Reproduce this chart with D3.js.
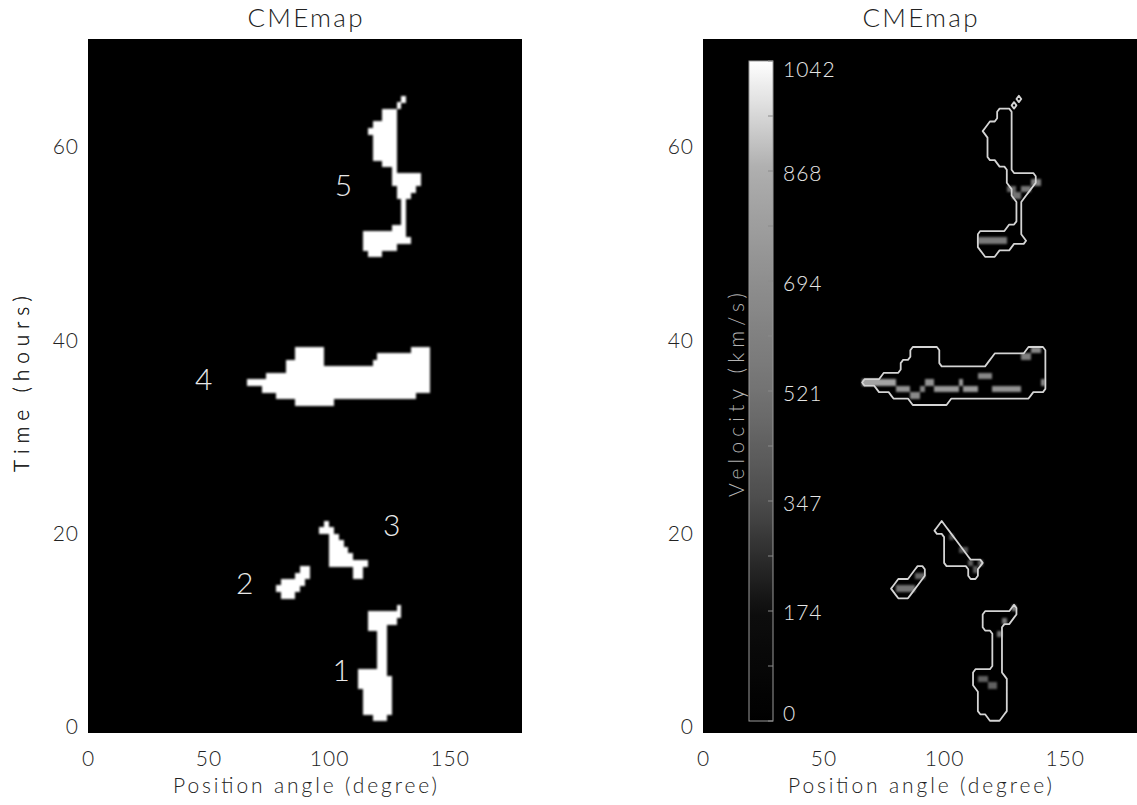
<!DOCTYPE html>
<html lang="en">
<head>
<meta charset="UTF-8">
<title>CMEmap</title>
<script src="https://d3js.org/d3.v7.min.js"></script>
<style>
  body { margin: 0; background: #fff; }
  text { font-family: Lato, "DejaVu Sans", sans-serif; font-weight: 300; }
</style>
</head>
<body>
<svg></svg>
<script>
const width = 1137, height = 805;

// axes
const angleTicks = [0, 50, 100, 150];
const hourTicks = [0, 20, 40, 60];
const velocityTicks = [0, 174, 347, 521, 694, 868, 1042];
const velocityGreys = ["#000000", "#0e0e0e", "#4c4c4c", "#737373", "#8e8e8e", "#adadad", "#ffffff"];

// map grid: 2 degree columns, 40 minute rows
const colStep = 2, rowStep = 2 / 3;
const nCols = 90, nRows = 108;

// each blob: [row, angle from, angle to]
const blob1 = [
  [1, 118, 124], [2, 114, 126], [3, 114, 126], [4, 114, 126], [5, 114, 126],
  [6, 112, 126], [7, 112, 126], [8, 112, 124],
  [9, 120, 124], [10, 120, 124], [11, 120, 124], [12, 120, 124], [13, 120, 124], [14, 120, 124],
  [15, 116, 124], [16, 116, 128], [17, 116, 130], [18, 128, 130]
];
const blob2 = [
  [20, 80, 86], [21, 78, 88], [22, 80, 90], [23, 86, 92], [24, 88, 92]
];
const blob3 = [
  [23, 110, 114], [24, 110, 114], [25, 100, 116], [26, 100, 110], [27, 100, 108],
  [28, 100, 106], [29, 100, 104], [30, 96, 102], [31, 98, 100]
];
const blob4 = [
  [50, 86, 102], [51, 78, 136], [52, 72, 142], [53, 66, 142], [54, 74, 142],
  [55, 82, 142], [56, 82, 98], [56, 118, 142], [57, 86, 98], [57, 120, 142],
  [58, 86, 98], [58, 134, 142]
];
const blob5 = [
  [73, 116, 122], [74, 114, 128], [75, 114, 134], [76, 114, 132], [77, 126, 132],
  [78, 130, 132], [79, 130, 132], [80, 130, 132], [81, 130, 132],
  [82, 128, 134], [83, 128, 136], [84, 126, 138], [85, 126, 138],
  [86, 126, 128], [87, 122, 128], [88, 118, 128], [89, 118, 128], [90, 118, 128], [91, 118, 128],
  [92, 116, 128], [93, 118, 128], [94, 122, 128], [95, 122, 128], [96, 128, 130], [97, 130, 132]
];
const blobs = [blob1, blob2, blob3, blob4, blob5];

const blobNames = ["1", "2", "3", "4", "5"];
const nameAngles = [105, 65, 126, 48, 106];
const nameHours = [5.9, 14.9, 20.9, 36.0, 56.1];

// velocity cells: [row, angle from, angle to, km/s]
const velocityCells = [
  [6, 118, 122, 440], [7, 114, 118, 440], [14, 122, 124, 520], [16, 124, 126, 560], [18, 128, 130, 700],
  [21, 80, 88, 520], [23, 88, 92, 450],
  [25, 110, 112, 420], [25, 114, 116, 450], [24, 112, 114, 400], [27, 106, 110, 380], [29, 102, 104, 330],
  [53, 66, 80, 820], [52, 80, 86, 720], [51, 86, 90, 660], [52, 90, 92, 650], [53, 92, 96, 720],
  [52, 96, 106, 760], [53, 106, 108, 760], [52, 108, 114, 760], [54, 114, 120, 650],
  [52, 120, 132, 720], [57, 132, 136, 600], [58, 136, 140, 650], [53, 140, 142, 660],
  [75, 114, 126, 560], [83, 126, 130, 480], [82, 128, 132, 520], [83, 132, 136, 540], [84, 136, 140, 600]
];

const plotTop = 39, plotW = 434, plotH = 694;
const panelLeft = [88, 703];
const ink = "#222";

const svg = d3.select("svg").attr("width", width).attr("height", height);

const defs = svg.append("defs");
defs.append("filter").attr("id", "soft")
  .attr("x", "-5%").attr("y", "-5%").attr("width", "110%").attr("height", "110%")
  .append("feGaussianBlur").attr("stdDeviation", 1.3);

const color = d3.scaleLinear().domain(velocityTicks).range(velocityGreys);

const grad = defs.append("linearGradient").attr("id", "bar")
  .attr("x1", 0).attr("y1", 1).attr("x2", 0).attr("y2", 0);
grad.selectAll("stop")
  .data(d3.range(0, 1.001, 0.02))
  .join("stop")
  .attr("offset", d => d)
  .attr("stop-color", d => color(d * 1042));

const grid = new Array(nCols * nRows).fill(0);
blobs.flat().forEach(([r, a0, a1]) => {
  for (let a = a0; a < a1; a += colStep) grid[r * nCols + Math.round(a / colStep)] = 1;
});
const outline = d3.contours().size([nCols, nRows]).thresholds([0.5])(grid)[0];

panelLeft.forEach((left, p) => {
  const x = d3.scaleLinear().domain([0, 180]).range([0, plotW]);
  const y = d3.scaleLinear().domain([-0.6, 71.2]).range([plotH, 0]);

  const g = svg.append("g").attr("transform", `translate(${left},${plotTop})`);

  g.append("rect").attr("width", plotW).attr("height", plotH).attr("fill", "#000");

  svg.append("text")
    .attr("x", left + plotW / 2).attr("y", 27)
    .attr("text-anchor", "middle").attr("font-size", 26)
    .attr("fill", ink)
    .attr("textLength", 115).attr("lengthAdjust", "spacing")
    .text("CMEmap");

  const xa = g.append("g").attr("transform", `translate(0,${plotH})`)
    .call(d3.axisBottom(x).tickValues(angleTicks).tickSize(0).tickPadding(18));
  const ya = g.append("g")
    .call(d3.axisLeft(y).tickValues(hourTicks).tickSize(0).tickPadding(9));
  [xa, ya].forEach(a => {
    a.select(".domain").remove();
    a.attr("font-family", null).attr("font-size", 21);
    a.selectAll("text").attr("fill", ink).attr("letter-spacing", 1);
  });

  g.append("text")
    .attr("x", plotW / 2).attr("y", plotH + 60)
    .attr("text-anchor", "middle").attr("font-size", 21)
    .attr("fill", ink)
    .attr("textLength", 264).attr("lengthAdjust", "spacing")
    .text("Position angle (degree)");

  g.append("text")
    .attr("transform", `translate(${22 - left},${plotH / 2 - 2}) rotate(-90)`)
    .attr("text-anchor", "middle").attr("dy", "0.35em").attr("font-size", 21)
    .attr("fill", ink)
    .attr("textLength", 176).attr("lengthAdjust", "spacing")
    .text("Time (hours)");

  if (p === 0) {
    g.append("g").attr("filter", "url(#soft)")
      .selectAll("rect")
      .data(blobs.flat())
      .join("rect")
      .attr("shape-rendering", "crispEdges")
      .attr("fill", "#fff")
      .attr("x", d => x(d[1]))
      .attr("width", d => x(d[2]) - x(d[1]))
      .attr("y", d => y((d[0] + 1) * rowStep))
      .attr("height", d => y(d[0] * rowStep) - y((d[0] + 1) * rowStep) + 0.5);

    g.selectAll(".name")
      .data(blobNames)
      .join("text")
      .attr("class", "name")
      .attr("x", (d, i) => x(nameAngles[i]))
      .attr("y", (d, i) => y(nameHours[i]))
      .attr("dy", "0.36em")
      .attr("text-anchor", "middle")
      .attr("font-size", 30)
      .attr("fill", "#e8e8e8")
      .text(d => d);
  } else {
    g.append("g").attr("filter", "url(#soft)")
      .selectAll("rect")
      .data(velocityCells)
      .join("rect")
      .attr("shape-rendering", "crispEdges")
      .attr("fill", d => color(d[3]))
      .attr("x", d => x(d[1]))
      .attr("width", d => x(d[2]) - x(d[1]))
      .attr("y", d => y((d[0] + 1) * rowStep))
      .attr("height", d => y(d[0] * rowStep) - y((d[0] + 1) * rowStep));

    const proj = d3.geoTransform({
      point(px, py) { this.stream.point(x(px * colStep), y(py * rowStep)); }
    });
    g.append("path")
      .attr("d", d3.geoPath(proj)(outline))
      .attr("fill", "none")
      .attr("stroke", "#d4d4d4")
      .attr("stroke-width", 1.8)
      .attr("stroke-linejoin", "round");

    // colour bar
    const barX = 46, barW = 24, barTop = 22, barBottom = 682;
    const v = d3.scaleLinear().domain([0, 1042]).range([barBottom, barTop]);
    g.append("rect")
      .attr("x", barX).attr("y", barTop)
      .attr("width", barW).attr("height", barBottom - barTop)
      .attr("fill", "url(#bar)")
      .attr("stroke", "#9a9a9a").attr("stroke-width", 1);

    const minor = d3.range(0, 1042.1, 1042 / 12);
    g.selectAll(".btick")
      .data(minor)
      .join("line")
      .attr("class", "btick")
      .attr("x1", barX + barW - 5).attr("x2", barX + barW)
      .attr("y1", d => v(d)).attr("y2", d => v(d))
      .attr("stroke", "#8a8a8a");

    g.selectAll(".blabel")
      .data(velocityTicks)
      .join("text")
      .attr("class", "blabel")
      .attr("x", barX + barW + 10)
      .attr("y", d => Math.min(Math.max(v(d) + 2, barTop + 8), barBottom - 8))
      .attr("dy", "0.36em")
      .attr("font-size", 21)
      .attr("letter-spacing", 1)
      .attr("fill", "#e6e6e6")
      .text(d => d);

    g.append("text")
      .attr("transform", `translate(${34},${(barTop + barBottom) / 2 + 4}) rotate(-90)`)
      .attr("text-anchor", "middle").attr("dy", "0.35em").attr("font-size", 21)
      .attr("fill", "#b4b4b4")
      .attr("textLength", 204).attr("lengthAdjust", "spacing")
      .text("Velocity (km/s)");
  }
});
</script>
</body>
</html>
